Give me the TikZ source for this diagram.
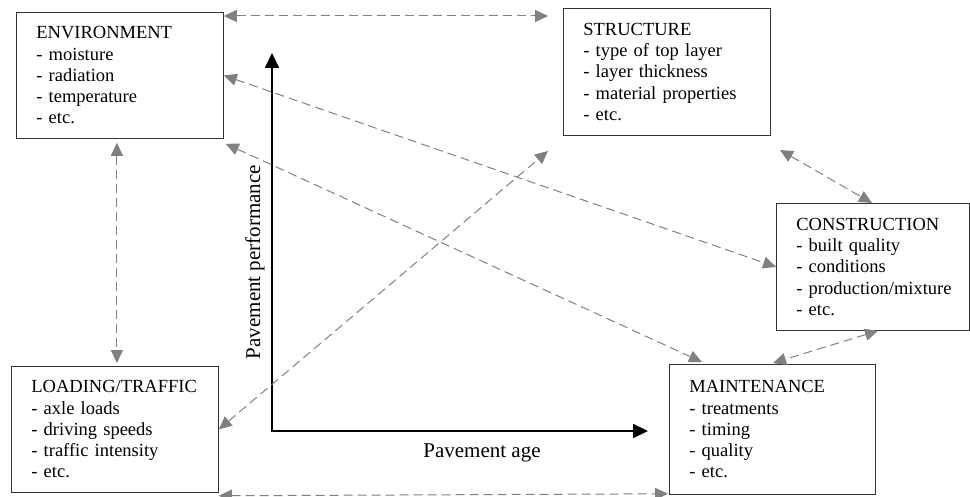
\documentclass[tikz,border=0pt]{standalone}
\usepackage{fontspec}
\setmainfont{Liberation Serif}
\usetikzlibrary{arrows.meta}
\definecolor{linkgray}{HTML}{808080}
\definecolor{boxline}{HTML}{333333}
\begin{document}
\begin{tikzpicture}[x=1pt,y=-1pt,
  box/.style={draw=boxline, line width=0.8pt, anchor=north west, align=left,
    inner xsep=20pt, inner ysep=0pt, font=\fontsize{18.5}{21.3}\selectfont},
  link/.style={draw=linkgray, line width=1pt, dash pattern=on 9pt off 5pt,
    {Triangle[length=13pt,width=12pt,fill=linkgray]}-{Triangle[length=13pt,width=12pt,fill=linkgray]}},
  axis/.style={draw=black, line width=1.8pt, -{Triangle[length=15pt,width=14pt]}},
  axislabel/.style={font=\fontsize{21}{24}\selectfont}]
\useasboundingbox (0,0) rectangle (970,497);

\node[box, text width=167pt, minimum height=126pt] (env) at (16,12)
  {ENVIRONMENT\\- moisture\\- radiation\\- temperature\\- etc.};
\node[box, text width=167pt, minimum height=127pt] (struct) at (563,8)
  {STRUCTURE\\- type of top layer\\- layer thickness\\- material properties\\- etc.};
\node[box, text width=153pt, minimum height=127pt] (constr) at (776,203)
  {CONSTRUCTION\\- built quality\\- conditions\\\mbox{- production/mixture}\\- etc.};
\node[box, text width=167pt, minimum height=126pt] (load) at (11,366)
  {LOADING/TRAFFIC\\- axle loads\\- driving speeds\\- traffic intensity\\- etc.};
\node[box, text width=166pt, minimum height=130pt] (maint) at (669,364)
  {MAINTENANCE\\- treatments\\- timing\\- quality\\- etc.};

% axes
\coordinate (O) at (272,431);
\coordinate (ytop) at (272,53);
\coordinate (xend) at (648,431);
\draw[axis] ([xshift=-1pt]O) -- (xend);
\draw[axis] ([yshift=1pt]O) -- (ytop);
\node[axislabel, rotate=90] (ylab) at (255,262) {Pavement performance};
\node[axislabel] (xlab) at (482,453) {Pavement age};

% free ends
\coordinate (s1) at (548,16);
\coordinate (s2) at (548,151);
\coordinate (s3) at (780,150);

% dashed links
\draw[link] ([yshift=-4pt]env.north east) -- (s1);
\draw[link] (env.east) -- (constr.west);
\draw[link] ([shift={(2pt,-5pt)}]env.south east) -- ([xshift=33pt,yshift=2pt]maint.north west);
\draw[link] ([xshift=-3pt,yshift=-4pt]env.south) -- ([xshift=2pt,yshift=3pt]load.north);
\draw[link] (load.east) -- (s2);
\draw[link] (s3) -- ([xshift=96pt]constr.north west);
\draw[link] ([xshift=102pt]constr.south west) -- ([xshift=104pt,yshift=1pt]maint.north west);
\draw[link] ([yshift=-3pt]load.south east) -- ([xshift=-1pt,yshift=1pt]maint.south west);
\end{tikzpicture}
\end{document}
